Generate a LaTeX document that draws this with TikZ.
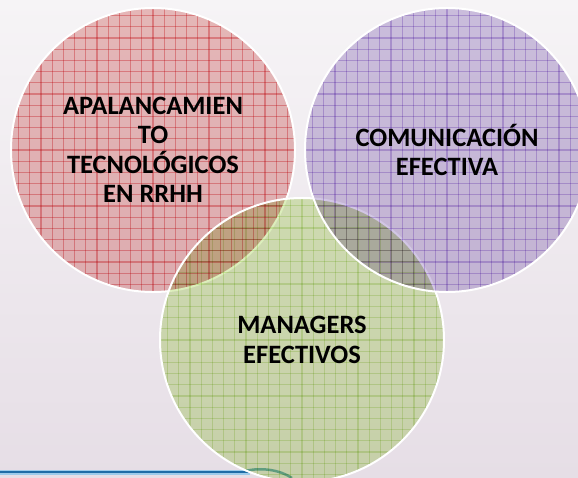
\documentclass[tikz,border=0pt]{standalone}
\usepackage{fontspec}
\newfontfamily\bubblefont{Carlito}[BoldFont={Carlito Bold}]
\usetikzlibrary{calc}
\definecolor{bgtop}{HTML}{F6F4F6}
\definecolor{bgbot}{HTML}{E6DEE6}
\definecolor{redfill}{HTML}{EDBAB9}
\definecolor{redline}{HTML}{F2A6AA}
\definecolor{purfill}{HTML}{CFC2E2}
\definecolor{purline}{HTML}{D2BEEC}
\definecolor{grnfill}{HTML}{DAEDB7}
\definecolor{grnline}{HTML}{DEEEC2}
\definecolor{lineblue}{HTML}{1E6CA6}
\definecolor{lightblue}{HTML}{9CCBEA}
\definecolor{swoosh}{HTML}{3E9296}
\tikzset{
  bubble/.style n args={2}{circle, minimum size=284pt, inner sep=0pt,
    draw=white, line width=2pt, align=center, text=black,
    font={\bubblefont\bfseries\fontsize{26.5}{29.5}\selectfont},
    path picture={
      \begin{scope}[blend mode=multiply, opacity=0.92]
        \fill[#1] (path picture bounding box.south west) rectangle (path picture bounding box.north east);
        \foreach \k in {-13,...,13}{
          \draw[#2, line width=1.1pt]
            ($(path picture bounding box.center)+(\k*11.2,-150)$) -- ++(0,300);
          \draw[#2, line width=1.1pt]
            ($(path picture bounding box.center)+(-150,\k*11.2)$) -- ++(300,0);
        }
      \end{scope}
    }}
}
\begin{document}
\begin{tikzpicture}[x=1pt,y=-1pt]
\useasboundingbox (0,0) rectangle (578,477);
\shade[top color=bgtop, bottom color=bgbot] (0,0) rectangle (578,477);
% bottom rule
\coordinate (ruleL) at (0,472);
\coordinate (ruleR) at (250,472);
\draw[lightblue, line width=5pt] (ruleL) -- (ruleR);
\draw[lineblue, line width=2.5pt] (ruleL) -- (ruleR);
\coordinate (swA) at (245,471);
\coordinate (swB) at (292,478);
\draw[swoosh, line width=2.5pt, opacity=0.7] (swA) .. controls (262,467) and (280,470) .. (swB);
% circles
\node[bubble={redfill}{redline}] (tec) at (153,150)
  {APALANCAMIEN\\TO\\TECNOLÓGICOS\\EN RRHH};
\node[bubble={grnfill}{grnline}] (man) at (302,340)
  {MANAGERS\\EFECTIVOS};
\node[bubble={purfill}{purline}] (com) at (447,150)
  {COMUNICACIÓN\\EFECTIVA};
\end{tikzpicture}
\end{document}
